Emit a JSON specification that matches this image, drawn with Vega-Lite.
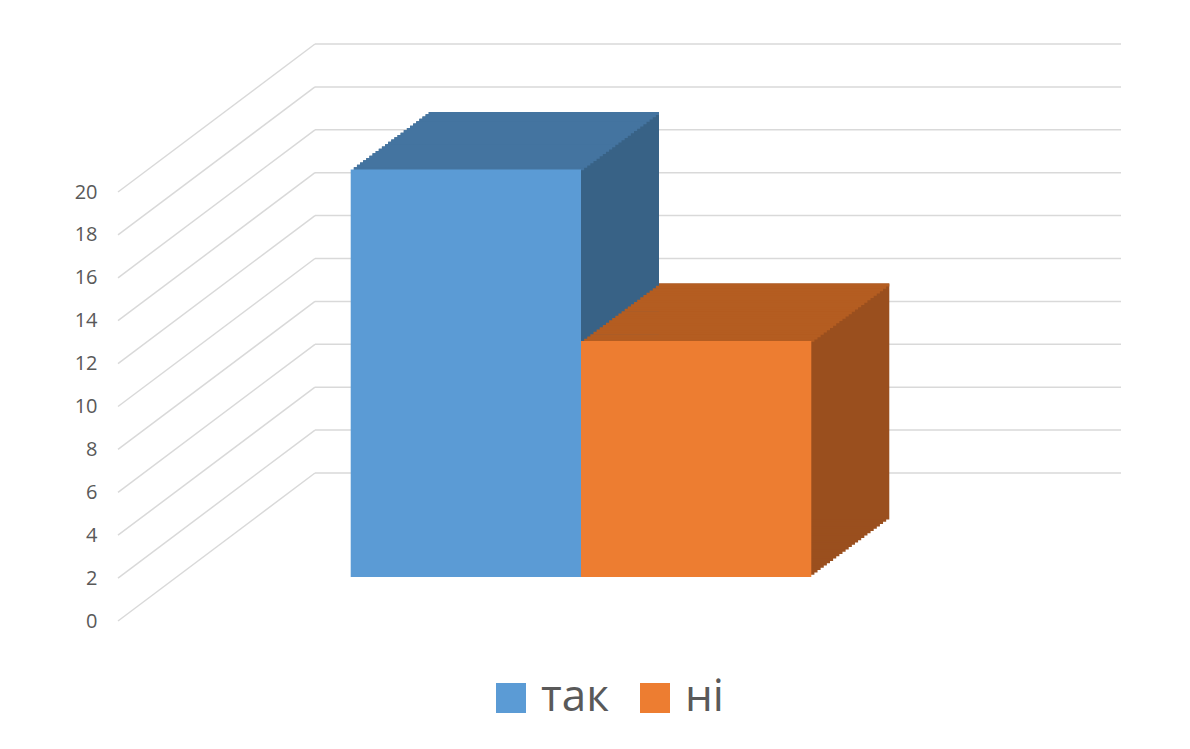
{
  "$schema": "https://vega.github.io/schema/vega-lite/v6.json",
  "width": 806,
  "height": 429,
  "autosize": {"type": "none"},
  "padding": {"left": 178, "top": 148, "right": 206, "bottom": 172},
  "background": "#ffffff",
  "config": {"view": {"stroke": null}, "font": "Open Sans"},
  "data": {"values": [{"answer": "так", "count": 19}, {"answer": "ні", "count": 11}]},
  "encoding": {
    "x": {"field": "answer", "type": "nominal", "axis": null,
      "scale": {"domain": ["так", "ні"], "paddingInner": 0, "paddingOuter": 0.75}}
  },
  "layer": [
    {"data": {"values": [{"v": 0}, {"v": 2}, {"v": 4}, {"v": 6}, {"v": 8}, {"v": 10}, {"v": 12}, {"v": 14}, {"v": 16}, {"v": 18}, {"v": 20}]},
     "mark": {"type": "rule", "color": "#d9d9d9", "strokeWidth": 1.5, "xOffset": 137, "x2Offset": 137, "yOffset": -104, "y2Offset": -104},
     "encoding": {"x": {"datum": "так", "bandPosition": -0.75}, "x2": {"datum": "ні", "bandPosition": 1.75},
       "y": {"field": "v", "type": "quantitative", "scale": {"domain": [0, 20], "nice": false},
       "axis": {"values": [0, 2, 4, 6, 8, 10, 12, 14, 16, 18, 20], "domain": false, "ticks": false, "grid": false, "title": null,
         "labelColor": "#595959", "labelFontSize": 20, "labelFont": "Open Sans", "offset": 60, "labelPadding": 21, "labelOffset": 44}},
       "y2": {"field": "v"}}},
    {"data": {"values": [{"v": 0}, {"v": 2}, {"v": 4}, {"v": 6}, {"v": 8}, {"v": 10}, {"v": 12}, {"v": 14}, {"v": 16}, {"v": 18}, {"v": 20}]},
     "mark": {"type": "rule", "color": "#d9d9d9", "strokeWidth": 1.5, "xOffset": -60, "x2Offset": 137, "yOffset": 44, "y2Offset": -104},
     "encoding": {"x": {"datum": "так", "bandPosition": -0.75}, "x2": {"datum": "так", "bandPosition": -0.75},
       "y": {"field": "v", "type": "quantitative"}, "y2": {"field": "v"}}},
    {"mark": {"type": "bar", "xOffset": 3.12, "yOffset": -2.3, "y2Offset": -2.3}, "encoding": {"y": {"field": "count", "type": "quantitative"}, "y2": {"datum": 0}, "color": {"condition": {"test": "datum.answer == 'так'", "value": "#386286"}, "value": "#9A4F1E"}}},
    {"mark": {"type": "bar", "xOffset": 6.24, "yOffset": -4.6, "y2Offset": -4.6}, "encoding": {"y": {"field": "count", "type": "quantitative"}, "y2": {"datum": 0}, "color": {"condition": {"test": "datum.answer == 'так'", "value": "#386286"}, "value": "#9A4F1E"}}},
    {"mark": {"type": "bar", "xOffset": 9.36, "yOffset": -6.9, "y2Offset": -6.9}, "encoding": {"y": {"field": "count", "type": "quantitative"}, "y2": {"datum": 0}, "color": {"condition": {"test": "datum.answer == 'так'", "value": "#386286"}, "value": "#9A4F1E"}}},
    {"mark": {"type": "bar", "xOffset": 12.48, "yOffset": -9.2, "y2Offset": -9.2}, "encoding": {"y": {"field": "count", "type": "quantitative"}, "y2": {"datum": 0}, "color": {"condition": {"test": "datum.answer == 'так'", "value": "#386286"}, "value": "#9A4F1E"}}},
    {"mark": {"type": "bar", "xOffset": 15.6, "yOffset": -11.5, "y2Offset": -11.5}, "encoding": {"y": {"field": "count", "type": "quantitative"}, "y2": {"datum": 0}, "color": {"condition": {"test": "datum.answer == 'так'", "value": "#386286"}, "value": "#9A4F1E"}}},
    {"mark": {"type": "bar", "xOffset": 18.72, "yOffset": -13.8, "y2Offset": -13.8}, "encoding": {"y": {"field": "count", "type": "quantitative"}, "y2": {"datum": 0}, "color": {"condition": {"test": "datum.answer == 'так'", "value": "#386286"}, "value": "#9A4F1E"}}},
    {"mark": {"type": "bar", "xOffset": 21.84, "yOffset": -16.1, "y2Offset": -16.1}, "encoding": {"y": {"field": "count", "type": "quantitative"}, "y2": {"datum": 0}, "color": {"condition": {"test": "datum.answer == 'так'", "value": "#386286"}, "value": "#9A4F1E"}}},
    {"mark": {"type": "bar", "xOffset": 24.96, "yOffset": -18.4, "y2Offset": -18.4}, "encoding": {"y": {"field": "count", "type": "quantitative"}, "y2": {"datum": 0}, "color": {"condition": {"test": "datum.answer == 'так'", "value": "#386286"}, "value": "#9A4F1E"}}},
    {"mark": {"type": "bar", "xOffset": 28.08, "yOffset": -20.7, "y2Offset": -20.7}, "encoding": {"y": {"field": "count", "type": "quantitative"}, "y2": {"datum": 0}, "color": {"condition": {"test": "datum.answer == 'так'", "value": "#386286"}, "value": "#9A4F1E"}}},
    {"mark": {"type": "bar", "xOffset": 31.2, "yOffset": -23, "y2Offset": -23}, "encoding": {"y": {"field": "count", "type": "quantitative"}, "y2": {"datum": 0}, "color": {"condition": {"test": "datum.answer == 'так'", "value": "#386286"}, "value": "#9A4F1E"}}},
    {"mark": {"type": "bar", "xOffset": 34.32, "yOffset": -25.3, "y2Offset": -25.3}, "encoding": {"y": {"field": "count", "type": "quantitative"}, "y2": {"datum": 0}, "color": {"condition": {"test": "datum.answer == 'так'", "value": "#386286"}, "value": "#9A4F1E"}}},
    {"mark": {"type": "bar", "xOffset": 37.44, "yOffset": -27.6, "y2Offset": -27.6}, "encoding": {"y": {"field": "count", "type": "quantitative"}, "y2": {"datum": 0}, "color": {"condition": {"test": "datum.answer == 'так'", "value": "#386286"}, "value": "#9A4F1E"}}},
    {"mark": {"type": "bar", "xOffset": 40.56, "yOffset": -29.9, "y2Offset": -29.9}, "encoding": {"y": {"field": "count", "type": "quantitative"}, "y2": {"datum": 0}, "color": {"condition": {"test": "datum.answer == 'так'", "value": "#386286"}, "value": "#9A4F1E"}}},
    {"mark": {"type": "bar", "xOffset": 43.68, "yOffset": -32.2, "y2Offset": -32.2}, "encoding": {"y": {"field": "count", "type": "quantitative"}, "y2": {"datum": 0}, "color": {"condition": {"test": "datum.answer == 'так'", "value": "#386286"}, "value": "#9A4F1E"}}},
    {"mark": {"type": "bar", "xOffset": 46.8, "yOffset": -34.5, "y2Offset": -34.5}, "encoding": {"y": {"field": "count", "type": "quantitative"}, "y2": {"datum": 0}, "color": {"condition": {"test": "datum.answer == 'так'", "value": "#386286"}, "value": "#9A4F1E"}}},
    {"mark": {"type": "bar", "xOffset": 49.92, "yOffset": -36.8, "y2Offset": -36.8}, "encoding": {"y": {"field": "count", "type": "quantitative"}, "y2": {"datum": 0}, "color": {"condition": {"test": "datum.answer == 'так'", "value": "#386286"}, "value": "#9A4F1E"}}},
    {"mark": {"type": "bar", "xOffset": 53.04, "yOffset": -39.1, "y2Offset": -39.1}, "encoding": {"y": {"field": "count", "type": "quantitative"}, "y2": {"datum": 0}, "color": {"condition": {"test": "datum.answer == 'так'", "value": "#386286"}, "value": "#9A4F1E"}}},
    {"mark": {"type": "bar", "xOffset": 56.16, "yOffset": -41.4, "y2Offset": -41.4}, "encoding": {"y": {"field": "count", "type": "quantitative"}, "y2": {"datum": 0}, "color": {"condition": {"test": "datum.answer == 'так'", "value": "#386286"}, "value": "#9A4F1E"}}},
    {"mark": {"type": "bar", "xOffset": 59.28, "yOffset": -43.7, "y2Offset": -43.7}, "encoding": {"y": {"field": "count", "type": "quantitative"}, "y2": {"datum": 0}, "color": {"condition": {"test": "datum.answer == 'так'", "value": "#386286"}, "value": "#9A4F1E"}}},
    {"mark": {"type": "bar", "xOffset": 62.4, "yOffset": -46, "y2Offset": -46}, "encoding": {"y": {"field": "count", "type": "quantitative"}, "y2": {"datum": 0}, "color": {"condition": {"test": "datum.answer == 'так'", "value": "#386286"}, "value": "#9A4F1E"}}},
    {"mark": {"type": "bar", "xOffset": 65.52, "yOffset": -48.3, "y2Offset": -48.3}, "encoding": {"y": {"field": "count", "type": "quantitative"}, "y2": {"datum": 0}, "color": {"condition": {"test": "datum.answer == 'так'", "value": "#386286"}, "value": "#9A4F1E"}}},
    {"mark": {"type": "bar", "xOffset": 68.64, "yOffset": -50.6, "y2Offset": -50.6}, "encoding": {"y": {"field": "count", "type": "quantitative"}, "y2": {"datum": 0}, "color": {"condition": {"test": "datum.answer == 'так'", "value": "#386286"}, "value": "#9A4F1E"}}},
    {"mark": {"type": "bar", "xOffset": 71.76, "yOffset": -52.9, "y2Offset": -52.9}, "encoding": {"y": {"field": "count", "type": "quantitative"}, "y2": {"datum": 0}, "color": {"condition": {"test": "datum.answer == 'так'", "value": "#386286"}, "value": "#9A4F1E"}}},
    {"mark": {"type": "bar", "xOffset": 74.88, "yOffset": -55.2, "y2Offset": -55.2}, "encoding": {"y": {"field": "count", "type": "quantitative"}, "y2": {"datum": 0}, "color": {"condition": {"test": "datum.answer == 'так'", "value": "#386286"}, "value": "#9A4F1E"}}},
    {"mark": {"type": "bar", "xOffset": 78, "yOffset": -57.5, "y2Offset": -57.5}, "encoding": {"y": {"field": "count", "type": "quantitative"}, "y2": {"datum": 0}, "color": {"condition": {"test": "datum.answer == 'так'", "value": "#386286"}, "value": "#9A4F1E"}}},
    {"mark": {"type": "bar", "xOffset": 3.12, "yOffset": -2.3, "y2Offset": 0.7}, "encoding": {"y": {"field": "count", "type": "quantitative"}, "y2": {"field": "count"}, "color": {"condition": {"test": "datum.answer == 'так'", "value": "#4474A0"}, "value": "#B45D21"}}},
    {"mark": {"type": "bar", "xOffset": 6.24, "yOffset": -4.6, "y2Offset": -1.6}, "encoding": {"y": {"field": "count", "type": "quantitative"}, "y2": {"field": "count"}, "color": {"condition": {"test": "datum.answer == 'так'", "value": "#4474A0"}, "value": "#B45D21"}}},
    {"mark": {"type": "bar", "xOffset": 9.36, "yOffset": -6.9, "y2Offset": -3.9}, "encoding": {"y": {"field": "count", "type": "quantitative"}, "y2": {"field": "count"}, "color": {"condition": {"test": "datum.answer == 'так'", "value": "#4474A0"}, "value": "#B45D21"}}},
    {"mark": {"type": "bar", "xOffset": 12.48, "yOffset": -9.2, "y2Offset": -6.2}, "encoding": {"y": {"field": "count", "type": "quantitative"}, "y2": {"field": "count"}, "color": {"condition": {"test": "datum.answer == 'так'", "value": "#4474A0"}, "value": "#B45D21"}}},
    {"mark": {"type": "bar", "xOffset": 15.6, "yOffset": -11.5, "y2Offset": -8.5}, "encoding": {"y": {"field": "count", "type": "quantitative"}, "y2": {"field": "count"}, "color": {"condition": {"test": "datum.answer == 'так'", "value": "#4474A0"}, "value": "#B45D21"}}},
    {"mark": {"type": "bar", "xOffset": 18.72, "yOffset": -13.8, "y2Offset": -10.8}, "encoding": {"y": {"field": "count", "type": "quantitative"}, "y2": {"field": "count"}, "color": {"condition": {"test": "datum.answer == 'так'", "value": "#4474A0"}, "value": "#B45D21"}}},
    {"mark": {"type": "bar", "xOffset": 21.84, "yOffset": -16.1, "y2Offset": -13.1}, "encoding": {"y": {"field": "count", "type": "quantitative"}, "y2": {"field": "count"}, "color": {"condition": {"test": "datum.answer == 'так'", "value": "#4474A0"}, "value": "#B45D21"}}},
    {"mark": {"type": "bar", "xOffset": 24.96, "yOffset": -18.4, "y2Offset": -15.4}, "encoding": {"y": {"field": "count", "type": "quantitative"}, "y2": {"field": "count"}, "color": {"condition": {"test": "datum.answer == 'так'", "value": "#4474A0"}, "value": "#B45D21"}}},
    {"mark": {"type": "bar", "xOffset": 28.08, "yOffset": -20.7, "y2Offset": -17.7}, "encoding": {"y": {"field": "count", "type": "quantitative"}, "y2": {"field": "count"}, "color": {"condition": {"test": "datum.answer == 'так'", "value": "#4474A0"}, "value": "#B45D21"}}},
    {"mark": {"type": "bar", "xOffset": 31.2, "yOffset": -23, "y2Offset": -20}, "encoding": {"y": {"field": "count", "type": "quantitative"}, "y2": {"field": "count"}, "color": {"condition": {"test": "datum.answer == 'так'", "value": "#4474A0"}, "value": "#B45D21"}}},
    {"mark": {"type": "bar", "xOffset": 34.32, "yOffset": -25.3, "y2Offset": -22.3}, "encoding": {"y": {"field": "count", "type": "quantitative"}, "y2": {"field": "count"}, "color": {"condition": {"test": "datum.answer == 'так'", "value": "#4474A0"}, "value": "#B45D21"}}},
    {"mark": {"type": "bar", "xOffset": 37.44, "yOffset": -27.6, "y2Offset": -24.6}, "encoding": {"y": {"field": "count", "type": "quantitative"}, "y2": {"field": "count"}, "color": {"condition": {"test": "datum.answer == 'так'", "value": "#4474A0"}, "value": "#B45D21"}}},
    {"mark": {"type": "bar", "xOffset": 40.56, "yOffset": -29.9, "y2Offset": -26.9}, "encoding": {"y": {"field": "count", "type": "quantitative"}, "y2": {"field": "count"}, "color": {"condition": {"test": "datum.answer == 'так'", "value": "#4474A0"}, "value": "#B45D21"}}},
    {"mark": {"type": "bar", "xOffset": 43.68, "yOffset": -32.2, "y2Offset": -29.2}, "encoding": {"y": {"field": "count", "type": "quantitative"}, "y2": {"field": "count"}, "color": {"condition": {"test": "datum.answer == 'так'", "value": "#4474A0"}, "value": "#B45D21"}}},
    {"mark": {"type": "bar", "xOffset": 46.8, "yOffset": -34.5, "y2Offset": -31.5}, "encoding": {"y": {"field": "count", "type": "quantitative"}, "y2": {"field": "count"}, "color": {"condition": {"test": "datum.answer == 'так'", "value": "#4474A0"}, "value": "#B45D21"}}},
    {"mark": {"type": "bar", "xOffset": 49.92, "yOffset": -36.8, "y2Offset": -33.8}, "encoding": {"y": {"field": "count", "type": "quantitative"}, "y2": {"field": "count"}, "color": {"condition": {"test": "datum.answer == 'так'", "value": "#4474A0"}, "value": "#B45D21"}}},
    {"mark": {"type": "bar", "xOffset": 53.04, "yOffset": -39.1, "y2Offset": -36.1}, "encoding": {"y": {"field": "count", "type": "quantitative"}, "y2": {"field": "count"}, "color": {"condition": {"test": "datum.answer == 'так'", "value": "#4474A0"}, "value": "#B45D21"}}},
    {"mark": {"type": "bar", "xOffset": 56.16, "yOffset": -41.4, "y2Offset": -38.4}, "encoding": {"y": {"field": "count", "type": "quantitative"}, "y2": {"field": "count"}, "color": {"condition": {"test": "datum.answer == 'так'", "value": "#4474A0"}, "value": "#B45D21"}}},
    {"mark": {"type": "bar", "xOffset": 59.28, "yOffset": -43.7, "y2Offset": -40.7}, "encoding": {"y": {"field": "count", "type": "quantitative"}, "y2": {"field": "count"}, "color": {"condition": {"test": "datum.answer == 'так'", "value": "#4474A0"}, "value": "#B45D21"}}},
    {"mark": {"type": "bar", "xOffset": 62.4, "yOffset": -46, "y2Offset": -43}, "encoding": {"y": {"field": "count", "type": "quantitative"}, "y2": {"field": "count"}, "color": {"condition": {"test": "datum.answer == 'так'", "value": "#4474A0"}, "value": "#B45D21"}}},
    {"mark": {"type": "bar", "xOffset": 65.52, "yOffset": -48.3, "y2Offset": -45.3}, "encoding": {"y": {"field": "count", "type": "quantitative"}, "y2": {"field": "count"}, "color": {"condition": {"test": "datum.answer == 'так'", "value": "#4474A0"}, "value": "#B45D21"}}},
    {"mark": {"type": "bar", "xOffset": 68.64, "yOffset": -50.6, "y2Offset": -47.6}, "encoding": {"y": {"field": "count", "type": "quantitative"}, "y2": {"field": "count"}, "color": {"condition": {"test": "datum.answer == 'так'", "value": "#4474A0"}, "value": "#B45D21"}}},
    {"mark": {"type": "bar", "xOffset": 71.76, "yOffset": -52.9, "y2Offset": -49.9}, "encoding": {"y": {"field": "count", "type": "quantitative"}, "y2": {"field": "count"}, "color": {"condition": {"test": "datum.answer == 'так'", "value": "#4474A0"}, "value": "#B45D21"}}},
    {"mark": {"type": "bar", "xOffset": 74.88, "yOffset": -55.2, "y2Offset": -52.2}, "encoding": {"y": {"field": "count", "type": "quantitative"}, "y2": {"field": "count"}, "color": {"condition": {"test": "datum.answer == 'так'", "value": "#4474A0"}, "value": "#B45D21"}}},
    {"mark": {"type": "bar", "xOffset": 78, "yOffset": -57.5, "y2Offset": -54.5}, "encoding": {"y": {"field": "count", "type": "quantitative"}, "y2": {"field": "count"}, "color": {"condition": {"test": "datum.answer == 'так'", "value": "#4474A0"}, "value": "#B45D21"}}},
    {"mark": {"type": "bar"},
     "encoding": {"y": {"field": "count", "type": "quantitative"}, "y2": {"datum": 0},
       "color": {"field": "answer", "type": "nominal", "scale": {"domain": ["так", "ні"], "range": ["#5B9BD5", "#ED7D31"]},
         "legend": {"title": null, "orient": "none", "legendX": 311, "legendY": 528, "direction": "horizontal",
           "symbolType": "square", "symbolSize": 900, "symbolStrokeWidth": 0, "symbolOpacity": 1,
           "labelFontSize": 44, "labelFont": "Open Sans", "labelColor": "#595959", "labelOffset": 8, "columnPadding": 24}}}}
  ]
}
